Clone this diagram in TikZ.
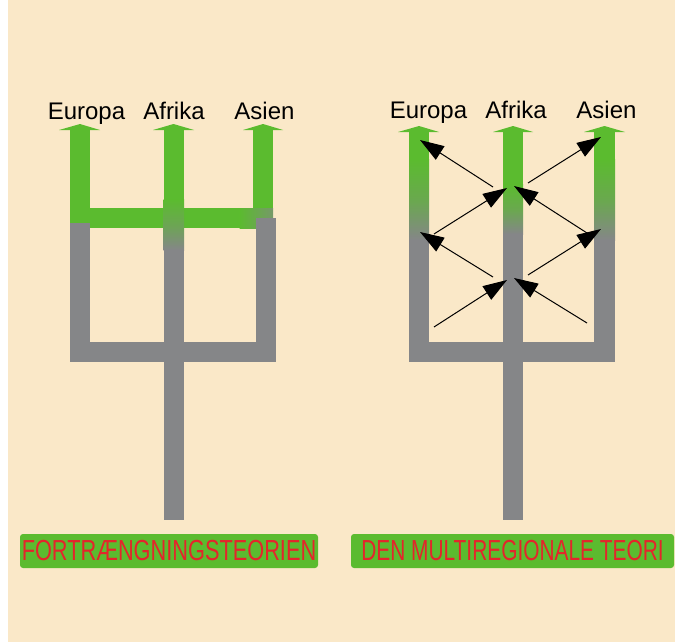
\documentclass[tikz,border=0pt]{standalone}
\usepackage{fontspec}
\setmainfont{Liberation Sans}
\usetikzlibrary{arrows.meta}
\definecolor{bg}{HTML}{FAE8C8}
\definecolor{grn}{HTML}{5BBB2F}
\definecolor{gry}{HTML}{858688}
\definecolor{lblred}{HTML}{E4252B}
\begin{document}
\begin{tikzpicture}[x=1pt,y=-1pt,
  region/.style={font=\fontsize{24}{28}\selectfont, anchor=base, inner sep=0pt},
  theory/.style={fill=grn, rounded corners=3pt, inner sep=0pt, minimum height=34pt,
     text=lblred, font=\fontsize{29}{30}\selectfont},
  gflow/.style={-{Triangle[length=24pt,width=16pt]}, line width=1pt, black},
  gshade/.style={top color=grn, bottom color=gry, middle color=gry!35!grn}]
\useasboundingbox (0,0) rectangle (675,642);
\fill[bg] (8,0) rectangle (675,642);

% ---------- left diagram ----------
\fill[gry] (70,342) rectangle (276,362);
\fill[gry] (164,230) rectangle (184,520);
\fill[grn] (70,130) rectangle (90,210);
\fill[grn] (253,130) rectangle (273,210);
\fill[grn] (70,208) rectangle (240,228);
\shade[left color=grn, right color=gry!65!grn] (239.5,208) rectangle (273,228);
\fill[gry] (70,223) rectangle (90,362);
\fill[gry] (256,218) rectangle (276,362);
\fill[grn] (163.5,130) rectangle (184,200);
\shade[top color=grn, bottom color=gry, middle color=gry!40!grn] (163.5,199.5) rectangle (184,250);
\fill[grn] (59,130) -- (80,124) -- (100,130) -- cycle;
\fill[grn] (153,130) -- (173.5,124) -- (194,130) -- cycle;
\fill[grn] (243,130) -- (263,124) -- (283,130) -- cycle;
\node[region] (eu1) at (86.5,119) {Europa};
\node[region] (af1) at (174,119) {Afrika};
\node[region] (as1) at (264.5,119) {Asien};

% ---------- right diagram ----------
\fill[gry] (409,132) rectangle (429,362);
\fill[gry] (594,132) rectangle (615,362);
\fill[gry] (409,342) rectangle (615,362);
\fill[gry] (503,132) rectangle (523,520);
\fill[grn] (409,132) rectangle (429,160);
\shade[gshade] (409,159.5) rectangle (429,240);
\fill[grn] (594,132) rectangle (615,160);
\shade[gshade] (594,159.5) rectangle (615,240);
\fill[grn] (503,132) rectangle (523,185);
\shade[gshade] (503,184.5) rectangle (523,234);
\fill[grn] (398,132) -- (419,126) -- (439,132) -- cycle;
\fill[grn] (493,132) -- (513,126) -- (533,132) -- cycle;
\fill[grn] (584,132) -- (604.5,126) -- (625,132) -- cycle;
\node[region] (eu2) at (428.5,118) {Europa};
\node[region] (af2) at (516,118) {Afrika};
\node[region] (as2) at (606.5,118) {Asien};

% gene flow arrows
\coordinate (s1) at (493,187); \coordinate (t1) at (420,140);
\coordinate (s2) at (528,183); \coordinate (t2) at (601,137);
\coordinate (s3) at (434,234); \coordinate (t3) at (507,188);
\coordinate (s4) at (587,233); \coordinate (t4) at (514,186);
\coordinate (s5) at (493,277); \coordinate (t5) at (420,232);
\coordinate (s6) at (528,275); \coordinate (t6) at (601,229);
\coordinate (s7) at (434,327); \coordinate (t7) at (507,280);
\coordinate (s8) at (587,323); \coordinate (t8) at (514,278);
\foreach \i in {1,...,8} {\draw[gflow] (s\i) -- (t\i);}

% ---------- theory labels ----------
\node[theory, minimum width=298pt] (th1) at (169,551) {\scalebox{0.75}[1]{FORTRÆNGNINGSTEORIEN}};
\node[theory, minimum width=323pt] (th2) at (512.5,551) {\scalebox{0.72}[1]{DEN MULTIREGIONALE TEORI}};
\end{tikzpicture}
\end{document}
